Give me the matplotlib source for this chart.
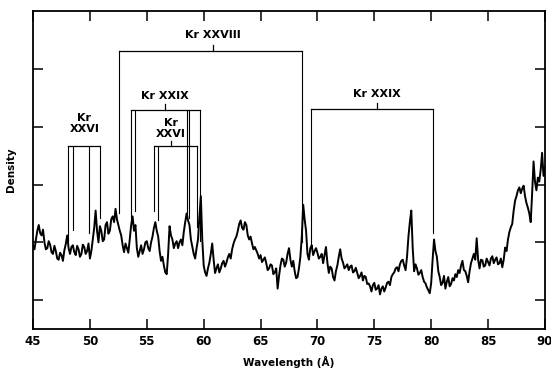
import numpy as np
import matplotlib
matplotlib.use("Agg")
import matplotlib.pyplot as plt

# spectrum (arbitrary density units)
# values on the 0.25 A grid starting at 45 A ...
wl_start, wl_step = 45.0, 0.25
density_grid = [
    1.45, 1.55, 1.80, 1.62, 1.50, 1.40, 1.46, 1.30, 1.35, 1.20,
    1.28, 1.36, 1.62, 1.30, 1.45, 1.28, 1.38, 1.30, 1.42, 1.35,
    1.22, 1.55, 2.05, 1.50, 1.70, 1.55, 1.85, 1.70, 1.95, 2.08,
    1.80, 1.62, 1.33, 1.40, 1.55, 1.95, 1.80, 1.25, 1.45, 1.38,
    1.52, 1.35, 1.60, 1.85, 1.60, 1.18, 1.10, 0.95, 1.78, 1.55,
    1.48, 1.40, 1.55, 1.68, 2.00, 1.80, 1.42, 1.22, 1.55, 2.30,
    1.10, 0.92, 1.15, 1.48, 0.97, 1.12, 1.05, 1.18, 1.15, 1.30,
    1.38, 1.55, 1.70, 1.88, 1.72, 1.80, 1.55, 1.48, 1.42, 1.30,
    1.28, 1.20, 1.14, 1.05, 1.10, 0.98, 0.70, 1.10, 1.20, 1.15,
    1.40, 1.08, 1.00, 0.90, 1.25, 2.15, 1.70, 1.20, 1.45, 1.35,
    1.32, 1.25, 1.14, 1.42, 0.97, 1.05, 0.84, 1.10, 1.38, 1.15,
    1.08, 1.02, 1.10, 1.00, 0.97, 0.92, 0.84, 0.90, 0.79, 0.65,
    0.80, 0.70, 0.60, 0.74, 0.72, 0.82, 0.90, 0.98, 1.07, 1.12,
    1.20, 1.02, 1.60, 2.05, 1.00, 1.05, 0.97, 0.90, 0.79, 0.67,
    0.80, 1.55, 1.25, 0.90, 0.80, 0.70, 0.90, 0.78, 0.84, 0.90,
    0.97, 1.18, 1.00, 0.81, 1.14, 1.30, 1.57, 1.05, 1.19, 1.10,
    1.16, 1.22, 1.14, 1.24, 1.14, 1.07, 1.41, 1.55, 1.76, 2.05,
    2.30, 2.45, 2.43, 2.30, 2.10, 1.85, 2.90, 2.40, 2.55, 3.05,
    2.80,
]
# ... and the noisy readings half-way between them
density_mid = [
    1.38, 1.70, 1.66, 1.72, 1.38, 1.52, 1.33, 1.44, 1.22, 1.32,
    1.18, 1.47, 1.40, 1.42, 1.33, 1.44, 1.25, 1.46, 1.30, 1.48,
    1.35, 1.75, 1.70, 1.78, 1.52, 1.80, 1.65, 1.90, 1.85, 1.90,
    1.70, 1.45, 1.48, 1.32, 1.80, 1.70, 1.40, 1.35, 1.30, 1.50,
    1.40, 1.50, 1.75, 1.70, 1.35, 1.25, 0.98, 1.30, 1.62, 1.40,
    1.52, 1.50, 1.45, 1.85, 1.88, 1.55, 1.30, 1.40, 1.95, 1.55,
    0.98, 1.05, 1.30, 1.20, 1.05, 0.98, 1.14, 1.08, 1.24, 1.22,
    1.48, 1.60, 1.82, 1.75, 1.85, 1.62, 1.60, 1.38, 1.36, 1.22,
    1.16, 1.24, 1.02, 1.12, 0.95, 1.05, 0.92, 1.22, 1.08, 1.30,
    1.20, 1.18, 0.88, 1.05, 1.60, 1.90, 1.30, 1.40, 1.28, 1.40,
    1.22, 1.30, 1.28, 1.15, 1.08, 0.90, 1.00, 1.25, 1.22, 1.05,
    1.12, 1.08, 0.98, 1.06, 0.88, 0.98, 0.92, 0.78, 0.74, 0.76,
    0.68, 0.76, 0.70, 0.65, 0.80, 0.76, 0.95, 1.05, 1.00, 1.18,
    1.10, 1.25, 1.85, 1.40, 1.12, 0.94, 1.02, 0.82, 0.72, 0.62,
    1.20, 1.35, 1.00, 0.76, 0.92, 0.82, 0.74, 0.88, 0.95, 1.02,
    1.10, 1.02, 0.92, 1.00, 1.22, 1.20, 1.20, 1.20, 1.08, 1.22,
    1.10, 1.26, 1.20, 1.12, 1.22, 1.20, 1.35, 1.68, 1.82, 2.22,
    2.40, 2.35, 2.48, 2.18, 2.00, 2.35, 2.55, 2.62, 2.75, 2.65,
]

wavelength = []
density = []
for i, d in enumerate(density_grid):
    wavelength.append(wl_start + i * wl_step)
    density.append(d)
    if i < len(density_mid):
        wavelength.append(wl_start + (i + 0.5) * wl_step)
        density.append(density_mid[i])

# line identifications: label, label x, bracket height, leg wavelengths, leg bottoms
ion_labels = ["Kr\nXXVI", "Kr XXVIII", "Kr XXIX", "Kr\nXXVI", "Kr XXIX"]
label_x = [49.5, 60.8, 56.6, 57.1, 75.2]
label_y = [3.55, 5.09, 4.03, 3.47, 4.07]
bracket_y = [3.16, 4.81, 3.79, 3.16, 3.81]
has_tick = [False, True, True, True, True]
leg_wl = [
    [48.1, 48.55, 49.9, 50.85],
    [52.56, 68.64],
    [53.58, 53.94, 58.5, 58.7, 59.67],
    [55.66, 56.0, 59.38],
    [69.43, 80.15],
]
leg_bottom = [
    [1.53, 1.71, 1.66, 1.93],
    [2.0, 1.5],
    [1.83, 2.05, 1.93, 1.93, 1.53],
    [2.05, 1.88, 1.76],
    [1.41, 1.66],
]

fig = plt.figure(figsize=(5.51, 3.71), dpi=100)
ax = fig.add_axes([0.060, 0.113, 0.929, 0.857])

ax.plot(wavelength, density, color="black", lw=1.4)

for i in range(len(ion_labels)):
    legs = leg_wl[i]
    top = bracket_y[i]
    ax.plot([legs[0], legs[-1]], [top, top], color="black", lw=0.9)
    for w, b in zip(legs, leg_bottom[i]):
        ax.plot([w, w], [b, top], color="black", lw=0.8)
    if has_tick[i]:
        ax.plot([label_x[i], label_x[i]], [top, top + 0.1], color="black", lw=0.9)
    ax.text(label_x[i], label_y[i], ion_labels[i], ha="center", va="center",
            fontsize=8, fontweight="bold", linespacing=1.1)

ax.set_xlim(45, 90)
ax.set_ylim(0, 5.5)
ax.set_xticks([45, 50, 55, 60, 65, 70, 75, 80, 85, 90])
ax.set_yticks([0.5, 1.5, 2.5, 3.5, 4.5])
ax.set_yticklabels([])
ax.tick_params(direction="in", top=True, right=True, length=7, width=1.1,
               labelsize=8.5, pad=4)
for lbl in ax.get_xticklabels():
    lbl.set_fontweight("bold")
for sp in ax.spines.values():
    sp.set_linewidth(1.3)

ax.set_xlabel("Wavelength (Å)", fontsize=7.5, fontweight="bold", labelpad=6)
ax.set_ylabel("Density", fontsize=7.5, fontweight="bold", labelpad=8)

fig.savefig("out.png", dpi=100)
